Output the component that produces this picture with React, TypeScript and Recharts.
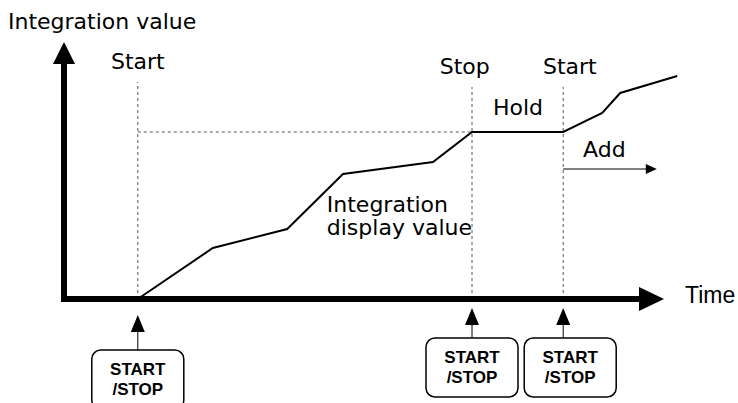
import { LineChart, Line, XAxis, YAxis, ReferenceLine, ReferenceDot } from 'recharts';

// integration display value over time
const time = [12.3, 24.8, 37.2, 46.5, 61.5, 68, 83.2, 89.7, 92.7, 102.2];
const value = [0, 20.4, 28, 50, 54.8, 66.8, 66.8, 74.4, 82.4, 89.2];

// START/STOP key presses
const eventTimes = [12.3, 68, 83.2];
const eventNames = ['Start', 'Stop', 'Start'];
const eventTops = [86.8, 84.8, 84.8];
const holdValue = 66.8;

const data = time.map((t, i) => ({ time: t, value: value[i] }));

const LABEL_FONT = '"DejaVu Sans", sans-serif';
const KEY_FONT = '"Liberation Sans", Arial, sans-serif';

const label = (text: string, anchor: 'start' | 'middle' = 'start', family = LABEL_FONT, size = 22) =>
  (p: any) => (
    <text x={p.cx} y={p.cy} textAnchor={anchor} fontFamily={family} fontSize={size} fill="#000">
      {text}
    </text>
  );

const axisArrow = (p: any) => {
  const { x1, y1, x2, y2 } = p;
  if (y1 === y2) {
    return (
      <g>
        <line x1={x1 - 3} y1={y1} x2={x2 - 22} y2={y2} stroke="#000" strokeWidth={6} />
        <polygon points={`${x2},${y2} ${x2 - 25},${y2 - 12} ${x2 - 25},${y2 + 12}`} fill="#000" />
      </g>
    );
  }
  return (
    <g>
      <line x1={x1} y1={y1 + 3} x2={x2} y2={y2 + 20} stroke="#000" strokeWidth={6} />
      <polygon points={`${x2},${y2} ${x2 - 11},${y2 + 22} ${x2 + 11},${y2 + 22}`} fill="#000" />
    </g>
  );
};

const addArrow = (p: any) => {
  const { x1, y1, x2 } = p;
  return (
    <g>
      <line x1={x1} y1={y1} x2={x2 - 10} y2={y1} stroke="#000" strokeWidth={1} />
      <polygon points={`${x2},${y1} ${x2 - 11},${y1 - 5} ${x2 - 11},${y1 + 5}`} fill="#000" />
    </g>
  );
};

const keyButton = (gap: number, drop: number, dx: number) => (p: any) => {
  const { cx, cy } = p;
  const tip = cy + gap;
  const top = cy + drop;
  const bx = cx + dx;
  return (
    <g>
      <line x1={cx} y1={tip + 15} x2={cx} y2={top} stroke="#000" strokeWidth={1} />
      <polygon points={`${cx},${tip} ${cx - 7},${tip + 17} ${cx + 7},${tip + 17}`} fill="#000" />
      <rect x={bx - 46} y={top} width={92} height={59} rx={9} fill="#fff" stroke="#000" strokeWidth={1.5} />
      <text textAnchor="middle" fontFamily={KEY_FONT} fontWeight="bold" fontSize={17} fill="#000">
        <tspan x={bx} y={top + 25}>START</tspan>
        <tspan x={bx} y={top + 45}>/STOP</tspan>
      </text>
    </g>
  );
};

const buttonLayout = [
  { gap: 16, drop: 51, dx: 0 },
  { gap: 9, drop: 39, dx: 0 },
  { gap: 9, drop: 39, dx: 7 },
];

export default function App() {
  return (
    <div style={{ position: 'absolute', left: 0, top: 0, background: '#fff' }}>
      <LineChart width={738} height={403} data={data} margin={{ top: 24, right: 44, bottom: 104, left: 64 }}>
        <XAxis type="number" dataKey="time" domain={[0, 105]} hide />
        <YAxis type="number" domain={[0, 110]} hide />

        {eventTimes.map((t, i) => (
          <ReferenceLine
            key={`ev${i}`}
            segment={[{ x: t, y: 0 }, { x: t, y: eventTops[i] }]}
            stroke="#555"
            strokeDasharray="3 3"
            strokeWidth={1}
          />
        ))}
        <ReferenceLine
          segment={[{ x: eventTimes[0], y: holdValue }, { x: eventTimes[1], y: holdValue }]}
          stroke="#555"
          strokeDasharray="3 3"
          strokeWidth={1}
        />
        <ReferenceLine segment={[{ x: eventTimes[2], y: 52 }, { x: 98.8, y: 52 }]} shape={addArrow} />

        <Line type="linear" dataKey="value" stroke="#000" strokeWidth={2} dot={false} isAnimationActive={false} />

        <ReferenceLine segment={[{ x: 0, y: 0 }, { x: 100, y: 0 }]} shape={axisArrow} />
        <ReferenceLine segment={[{ x: 0, y: 0 }, { x: 0, y: 102.8 }]} shape={axisArrow} />

        {eventTimes.map((t, i) => (
          <ReferenceDot
            key={`btn${i}`}
            x={t}
            y={0}
            r={0}
            ifOverflow="visible"
            shape={keyButton(buttonLayout[i].gap, buttonLayout[i].drop, buttonLayout[i].dx)}
          />
        ))}

        <ReferenceDot x={-9.33} y={108} r={0} ifOverflow="visible" shape={label('Integration value')} />
        <ReferenceDot x={eventTimes[0]} y={92} r={0} ifOverflow="visible" shape={label(eventNames[0], 'middle')} />
        <ReferenceDot x={66.8} y={90} r={0} ifOverflow="visible" shape={label(eventNames[1], 'middle')} />
        <ReferenceDot x={84.3} y={90} r={0} ifOverflow="visible" shape={label(eventNames[2], 'middle')} />
        <ReferenceDot x={71.5} y={73.6} r={0} ifOverflow="visible" shape={label('Hold')} />
        <ReferenceDot x={86.5} y={56.8} r={0} ifOverflow="visible" shape={label('Add')} />
        <ReferenceDot x={43.8} y={34.8} r={0} ifOverflow="visible" shape={label('Integration')} />
        <ReferenceDot x={43.8} y={25.6} r={0} ifOverflow="visible" shape={label('display value')} />
        <ReferenceDot x={103.5} y={-1.6} r={0} ifOverflow="visible" shape={label('Time', 'start', KEY_FONT, 23)} />
      </LineChart>
    </div>
  );
}
